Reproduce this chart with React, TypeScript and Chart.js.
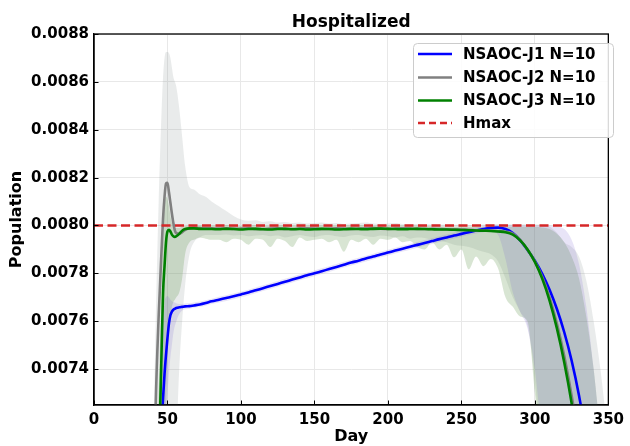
import { useEffect, useRef } from 'react';
import { Chart, registerables } from 'chart.js';

Chart.register(...registerables);

const FONT = '"DejaVu Sans", "Liberation Sans", sans-serif';

const titleText = 'Hospitalized';
const xLabel = 'Day';
const yLabel = 'Population';
const seriesNames = ['NSAOC-J1 N=10', 'NSAOC-J2 N=10', 'NSAOC-J3 N=10', 'Hmax'];
const xTicks = [0, 50, 100, 150, 200, 250, 300, 350];
const yTicks = [0.0074, 0.0076, 0.0078, 0.008, 0.0082, 0.0084, 0.0086, 0.0088];
const hmax = 0.008;

const days = [40, 42, 44, 46, 47, 48, 49, 50, 51, 52, 53, 54, 55, 56, 58, 60, 62, 65, 68, 72, 76, 80,
  85, 90, 95, 100, 105, 110, 115, 120, 125, 130, 135, 140, 145, 150, 155, 160, 165, 170, 175, 180,
  185, 190, 195, 200, 205, 210, 215, 220, 225, 230, 235, 240, 245, 250, 255, 260, 265, 270,
  275, 280, 285, 290, 295, 300, 305, 310, 315, 320, 325, 330, 335, 340, 345, 350];

const j1Mean = [0.0068, 0.0069, 0.007, 0.00715, 0.00728, 0.00738, 0.00746, 0.00753, 0.00759, 0.007625, 0.00764, 0.007648, 0.007652, 0.007655, 0.007658, 0.00766, 0.007662, 0.007663, 0.007666, 0.00767, 0.007676, 0.007683,
  0.00769, 0.007697, 0.007704, 0.007712, 0.00772, 0.007729, 0.007738, 0.007747, 0.007756, 0.007765, 0.007774, 0.007783, 0.007792, 0.0078, 0.007809, 0.007818, 0.007827, 0.007836, 0.007845, 0.007853, 0.007862, 0.00787, 0.007879, 0.007887, 0.007895, 0.007903, 0.007911, 0.007919, 0.007927, 0.007935, 0.007943, 0.00795, 0.007958, 0.007965, 0.007972, 0.007979, 0.007985, 0.00799,
  0.007991, 0.007985, 0.007968, 0.007938, 0.007898, 0.007853, 0.007798, 0.007731, 0.007651, 0.007554, 0.007436, 0.007291, 0.00711, 0.00689, 0.00665, 0.0064];
const j1Hi = [0.007, 0.0071, 0.00722, 0.00745, 0.0076, 0.00768, 0.0077, 0.007705, 0.0077, 0.00769, 0.007685, 0.00768, 0.007678, 0.007675, 0.007672, 0.007672, 0.007674, 0.007675, 0.007678, 0.007682, 0.007688, 0.007694,
  0.007702, 0.007709, 0.007716, 0.007724, 0.007732, 0.007741, 0.00775, 0.007759, 0.007768, 0.007777, 0.007786, 0.007795, 0.007804, 0.007812, 0.007821, 0.00783, 0.007839, 0.007848, 0.007857, 0.007865, 0.007874, 0.007882, 0.007891, 0.007899, 0.007907, 0.007915, 0.007923, 0.007931, 0.007939, 0.007947, 0.007955, 0.007962, 0.00797, 0.007977, 0.007985, 0.007992, 0.007998, 0.008002,
  0.008003, 0.008003, 0.008, 0.008, 0.008, 0.008, 0.008, 0.008, 0.007995, 0.007985, 0.00794, 0.00784, 0.00766, 0.0074, 0.0071, 0.0068];
const j1Lo = [0.0062, 0.0064, 0.0066, 0.0069, 0.007, 0.0071, 0.0072, 0.0073, 0.00738, 0.00745, 0.0075, 0.00755, 0.00758, 0.0076, 0.00763, 0.007645, 0.00765, 0.007652, 0.007656, 0.00766, 0.007665, 0.007672,
  0.007678, 0.007685, 0.007692, 0.0077, 0.007708, 0.007717, 0.007726, 0.007735, 0.007744, 0.007753, 0.007762, 0.007771, 0.00778, 0.007788, 0.007797, 0.007806, 0.007815, 0.007824, 0.007833, 0.007841, 0.00785, 0.007858, 0.007867, 0.007875, 0.007883, 0.007891, 0.007899, 0.007907, 0.007915, 0.007923, 0.007931, 0.007938, 0.007946, 0.007953, 0.00796, 0.007967, 0.007972, 0.007976,
  0.00796, 0.00786, 0.00772, 0.00764, 0.00757, 0.0074, 0.0071, 0.0068, 0.0066, 0.0064, 0.0062, 0.006, 0.006, 0.006, 0.006, 0.006];

const j2Mean = [0.0066, 0.00725, 0.00762, 0.0079, 0.00803, 0.00812, 0.008175, 0.008178, 0.00814, 0.008095, 0.00805, 0.00801, 0.00798, 0.007968, 0.007965, 0.007972, 0.007982, 0.007988, 0.00799, 0.007989, 0.007988, 0.007988,
  0.007987, 0.007988, 0.007986, 0.007987, 0.007988, 0.007986, 0.007985, 0.007987, 0.007988, 0.007986, 0.007985, 0.007987, 0.007988, 0.007987, 0.007985, 0.007986, 0.007988, 0.007987, 0.007986, 0.007987, 0.007988, 0.007989, 0.007987, 0.007986, 0.007987, 0.007988, 0.007987, 0.007986, 0.007985, 0.007986, 0.007985, 0.007984, 0.007984, 0.007983, 0.007982, 0.00798, 0.007979, 0.007978,
  0.007976, 0.007974, 0.007966, 0.00794, 0.007899, 0.00785, 0.007785, 0.0077, 0.00759, 0.007455, 0.00729, 0.0071, 0.00688, 0.00664, 0.0064, 0.0062];
const j2Hi = [0.007, 0.0076, 0.0081, 0.00848, 0.00862, 0.0087, 0.008725, 0.008725, 0.00872, 0.0087, 0.00866, 0.00862, 0.0086, 0.00858, 0.00849, 0.00837, 0.00825, 0.00816, 0.00815, 0.00813, 0.00812, 0.0081,
  0.00808, 0.00806, 0.00804, 0.008025, 0.00802, 0.008022, 0.008015, 0.008018, 0.008012, 0.008015, 0.00801, 0.008012, 0.008008, 0.00801, 0.008012, 0.008008, 0.00801, 0.008006, 0.008008, 0.00801, 0.008012, 0.008008, 0.008006, 0.008008, 0.00801, 0.008006, 0.008005, 0.008006, 0.008004, 0.008005, 0.008004, 0.008004, 0.008003, 0.008003, 0.008002, 0.008003, 0.008004, 0.008004,
  0.008005, 0.008005, 0.008005, 0.008005, 0.008005, 0.008005, 0.008002, 0.007995, 0.00797, 0.00793, 0.00791, 0.00787, 0.00777, 0.0076, 0.00738, 0.0071];
const j2Lo = [0.0058, 0.0059, 0.006, 0.0061, 0.0062, 0.0063, 0.0064, 0.0065, 0.0066, 0.0067, 0.0068, 0.0069, 0.007, 0.0071, 0.0074, 0.0076, 0.00775, 0.00788, 0.00793, 0.00795, 0.00796, 0.00796,
  0.00796, 0.007962, 0.007958, 0.00796, 0.007955, 0.007958, 0.00796, 0.007955, 0.007958, 0.00795, 0.007955, 0.00796, 0.007955, 0.007952, 0.007958, 0.00796, 0.007955, 0.007952, 0.007958, 0.00796, 0.007955, 0.007952, 0.007958, 0.007955, 0.00795, 0.007955, 0.007945, 0.00795, 0.007948, 0.00794, 0.007935, 0.00793, 0.00792, 0.007915, 0.00791, 0.0079, 0.00789, 0.00788,
  0.00785, 0.00778, 0.0077, 0.00764, 0.00758, 0.00735, 0.007, 0.0068, 0.0066, 0.0064, 0.0062, 0.006, 0.006, 0.006, 0.006, 0.006];

const j3Mean = [0.0066, 0.0068, 0.007, 0.00748, 0.00772, 0.00783, 0.00793, 0.007975, 0.007982, 0.007975, 0.007962, 0.007955, 0.007952, 0.007955, 0.007965, 0.007978, 0.007985, 0.007988, 0.007988, 0.007986, 0.007985, 0.007985,
  0.007984, 0.007986, 0.007985, 0.007983, 0.007985, 0.007986, 0.007984, 0.007983, 0.007985, 0.007986, 0.007984, 0.007985, 0.007983, 0.007984, 0.007986, 0.007985, 0.007983, 0.007984, 0.007986, 0.007985, 0.007984, 0.007986, 0.007987, 0.007986, 0.007985, 0.007984, 0.007985, 0.007986, 0.007985, 0.007984, 0.007983, 0.007983, 0.007982, 0.007981, 0.00798, 0.007979, 0.007978, 0.007977,
  0.007975, 0.007972, 0.007962, 0.007938, 0.0079, 0.007848, 0.007778, 0.007686, 0.00757, 0.007428, 0.007258, 0.00705, 0.0068, 0.00655, 0.0063, 0.0061];
const j3Hi = [0.0068, 0.007, 0.0073, 0.00775, 0.00795, 0.00808, 0.00812, 0.00811, 0.00808, 0.00804, 0.00801, 0.007995, 0.00799, 0.00799, 0.00799, 0.007995, 0.007998, 0.008, 0.008, 0.008, 0.008, 0.008,
  0.008, 0.008002, 0.008, 0.007998, 0.008, 0.008002, 0.008, 0.007998, 0.008, 0.008002, 0.008, 0.007999, 0.008, 0.008002, 0.008, 0.007998, 0.008, 0.008001, 0.008, 0.008002, 0.008, 0.007999, 0.008001, 0.008, 0.007999, 0.008, 0.008, 0.007999, 0.007998, 0.007997, 0.007996, 0.007996, 0.007995, 0.007995, 0.007995, 0.007994, 0.007994, 0.007994,
  0.007995, 0.007995, 0.007995, 0.007995, 0.007995, 0.007995, 0.007992, 0.007985, 0.007965, 0.00793, 0.00787, 0.00778, 0.00762, 0.0074, 0.0071, 0.0068];
const j3Lo = [0.006, 0.0061, 0.0062, 0.0066, 0.0069, 0.0071, 0.0072, 0.00745, 0.00755, 0.00762, 0.00766, 0.00768, 0.00769, 0.0077, 0.00772, 0.00778, 0.00788, 0.00793, 0.00794, 0.00795, 0.007945, 0.00794,
  0.00794, 0.00793, 0.007945, 0.00794, 0.00792, 0.007945, 0.00794, 0.00791, 0.007945, 0.007935, 0.00791, 0.00795, 0.007935, 0.00794, 0.007945, 0.00793, 0.00794, 0.00789, 0.00794, 0.00793, 0.007945, 0.00792, 0.007945, 0.00794, 0.00795, 0.00793, 0.007935, 0.00791, 0.0079, 0.00793, 0.0079, 0.00792, 0.007867, 0.0079, 0.007817, 0.00787, 0.00783, 0.00786,
  0.00782, 0.0077, 0.00766, 0.00762, 0.0076, 0.0073, 0.007, 0.0068, 0.0066, 0.0064, 0.0062, 0.006, 0.006, 0.006, 0.006, 0.006];

const lineColors = ['#0000ff', '#808080', '#008000', '#d62728'];
const bandColors = ['rgba(110, 90, 205, 0.16)', 'rgba(140, 150, 148, 0.19)', 'rgba(100, 150, 80, 0.25)'];

const pts = (ys: number[]) => days.map((d, i) => ({ x: d, y: ys[i] }));

function lineDS(label: string, ys: number[], color: string, order: number) {
  return {
    label, data: pts(ys), borderColor: color, backgroundColor: color, borderWidth: 2.6,
    pointRadius: 0, fill: false, cubicInterpolationMode: 'monotone', order,
  };
}
function bandDS(label: string, ys: number[], color: string, fill: any, order: number) {
  return {
    label, data: pts(ys), borderColor: 'rgba(0,0,0,0)', backgroundColor: color, borderWidth: 0,
    pointRadius: 0, fill, cubicInterpolationMode: 'monotone', order,
  };
}

const decor = {
  id: 'decor',
  afterDraw(chart: any) {
    const { ctx, chartArea: a, scales } = chart;
    ctx.save();
    ctx.strokeStyle = '#000';
    ctx.lineWidth = 1.3;
    ctx.strokeRect(a.left, a.top, a.right - a.left, a.bottom - a.top);
    ctx.lineWidth = 1;
    ctx.beginPath();
    yTicks.forEach((v) => {
      const y = Math.round(scales.y.getPixelForValue(v)) + 0.5;
      ctx.moveTo(a.left, y); ctx.lineTo(a.left + 4.5, y);
    });
    xTicks.forEach((v) => {
      const x = Math.round(scales.x.getPixelForValue(v)) + 0.5;
      ctx.moveTo(x, a.bottom); ctx.lineTo(x, a.bottom - 4.5);
    });
    ctx.stroke();
    ctx.fillStyle = '#000';
    ctx.textAlign = 'center';
    ctx.textBaseline = 'alphabetic';
    ctx.font = `bold 17px ${FONT}`;
    ctx.fillText(titleText, (a.left + a.right) / 2, 27);
    ctx.font = `bold 16px ${FONT}`;
    ctx.fillText(xLabel, (a.left + a.right) / 2, 441);
    ctx.save();
    ctx.translate(21, (a.top + a.bottom) / 2);
    ctx.rotate(-Math.PI / 2);
    ctx.fillText(yLabel, 0, 0);
    ctx.restore();
    const bx = 413, by = 43, bw = 200, bh = 94;
    ctx.beginPath();
    ctx.roundRect(bx + 0.5, by + 0.5, bw, bh, 4);
    ctx.fillStyle = 'rgba(255,255,255,0.85)';
    ctx.fill();
    ctx.strokeStyle = '#cccccc';
    ctx.lineWidth = 1;
    ctx.stroke();
    const rows = [54, 77.5, 100.5, 123];
    ctx.font = `bold 15px ${FONT}`;
    ctx.textAlign = 'left';
    ctx.textBaseline = 'middle';
    seriesNames.forEach((name, i) => {
      ctx.beginPath();
      ctx.strokeStyle = lineColors[i];
      ctx.lineWidth = 2.6;
      ctx.setLineDash(i === 3 ? [7, 4] : []);
      ctx.moveTo(418, rows[i]); ctx.lineTo(452, rows[i]);
      ctx.stroke();
      ctx.setLineDash([]);
      ctx.fillStyle = '#000';
      ctx.fillText(name, 463, rows[i] + 1);
    });
    ctx.restore();
  },
};

export default function App() {
  const ref = useRef<HTMLCanvasElement>(null);
  useEffect(() => {
    if (!ref.current) return;
    const chart = new Chart(ref.current, {
      type: 'line',
      data: {
        datasets: [
          {
            label: seriesNames[3], data: [{ x: 0, y: hmax }, { x: 350, y: hmax }], borderColor: lineColors[3],
            borderWidth: 2.6, borderDash: [9, 4.5], pointRadius: 0, fill: false, order: 0,
          },
          lineDS(seriesNames[2], j3Mean, lineColors[2], 1),
          lineDS(seriesNames[1], j2Mean, lineColors[1], 2),
          lineDS(seriesNames[0], j1Mean, lineColors[0], 3),
          bandDS('j2Hi', j2Hi, bandColors[1], '+1', 12),
          bandDS('j2Lo', j2Lo, bandColors[1], false, 12),
          bandDS('j3Hi', j3Hi, bandColors[2], '+1', 11),
          bandDS('j3Lo', j3Lo, bandColors[2], false, 11),
          bandDS('j1Hi', j1Hi, bandColors[0], '+1', 10),
          bandDS('j1Lo', j1Lo, bandColors[0], false, 10),
        ] as any,
      },
      options: {
        responsive: false,
        devicePixelRatio: 1,
        animation: false,
        layout: { padding: { top: 34, right: 16, left: 0, bottom: 0 } },
        plugins: { legend: { display: false }, tooltip: { enabled: false }, title: { display: false } },
        scales: {
          x: {
            type: 'linear', min: 0, max: 350,
            afterBuildTicks: (s: any) => { s.ticks = xTicks.map((v) => ({ value: v })); },
            afterFit: (s: any) => { s.height = 41; },
            ticks: { color: '#000', font: { family: FONT, size: 15, weight: 'bold' }, padding: 6, maxRotation: 0, callback: (v: any) => String(v) },
            grid: { color: '#e8e8e8', lineWidth: 1, drawTicks: false },
            border: { display: true, color: '#000', width: 1.3 },
          },
          y: {
            type: 'linear', min: 0.00725, max: 0.0088,
            afterBuildTicks: (s: any) => { s.ticks = yTicks.map((v) => ({ value: v })); },
            afterFit: (s: any) => { s.width = 94; },
            ticks: { color: '#000', font: { family: FONT, size: 15, weight: 'bold' }, padding: 5, callback: (v: any) => Number(v).toFixed(4) },
            grid: { color: '#e8e8e8', lineWidth: 1, drawTicks: false },
            border: { display: true, color: '#000', width: 1.3 },
          },
        },
      } as any,
      plugins: [decor],
    });
    return () => chart.destroy();
  }, []);
  return (
    <div style={{ position: 'absolute', left: 0, top: 0, width: 630, height: 446 }}>
      <canvas ref={ref} width={630} height={446} style={{ display: 'block' }} />
    </div>
  );
}
